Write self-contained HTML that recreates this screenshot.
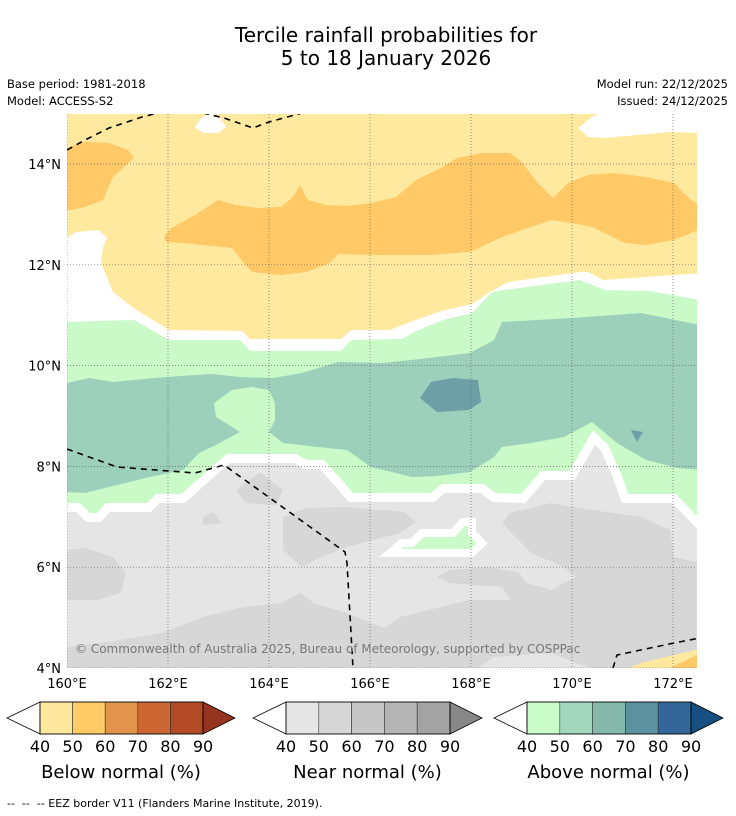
<!DOCTYPE html>
<html><head><meta charset="utf-8"><style>
html,body{margin:0;padding:0;background:#fff;}
svg{display:block;font-family:"DejaVu Sans","Liberation Sans",sans-serif;}
</style></head><body>
<svg id="root" width="736" height="816" viewBox="0 0 736 816">
<rect width="736" height="816" fill="#fff"/>
<text x="386" y="42" font-size="20" text-anchor="middle">Tercile rainfall probabilities for</text>
<text x="386" y="65" font-size="20" text-anchor="middle">5 to 18 January 2026</text>
<text x="7" y="88" font-size="11.5">Base period: 1981-2018</text>
<text x="7" y="105" font-size="11.5">Model: ACCESS-S2</text>
<text x="728" y="88" font-size="11.5" text-anchor="end">Model run: 22/12/2025</text>
<text x="728" y="105" font-size="11.5" text-anchor="end">Issued: 24/12/2025</text>

<defs><clipPath id="mc"><rect x="67" y="114" width="630" height="554"/></clipPath></defs>
<g clip-path="url(#mc)">
<rect x="67" y="114" width="630" height="554" fill="#fff"/>
<polygon fill="#C9FAC8" points="67,322 134,320 169,340 240,340 250,351 341,351 351,340 402,339 412,333 443,320 472,313 492,292 504,290 580,280 605,290 650,291 700,300 700,668 67,668"/>
<polygon fill="#9CD0BA" points="67,383 89,378 113,382 166,377 212,374 240,377 273,378 302,373 338,362 383,363 429,358 470,353 494,340 502,322 572,318 641,313 700,325 700,470 678,468 646,460 617,443 592,422 564,437 531,443 502,447 494,457 470,472 437,476 412,477 371,467 347,450 318,447 283,443 269,432 275,420 275,403 269,390 252,387 232,390 214,403 216,417 240,432 216,445 199,453 183,470 150,477 109,487 85,493 67,492"/>
<polygon fill="#6DA0A6" points="420,398 431,382 453,378 478,380 481,402 469,410 437,412"/>
<polygon fill="#6DA0A6" points="631,430 643,432 637,442"/>
<polygon fill="#E5E5E5" points="67,512 78,512 88,522 99,522 108,512 149,512 158,503 183,503 228,463 295,463 306,469 322,469 351,502 433,502 443,493 482,493 494,502 523,503 543,480 572,480 594,442 605,453 617,480 625,503 674,503 700,530 700,668 67,668"/>
<polyline fill="none" stroke="#fff" stroke-width="9" transform="translate(0,-4.5)" points="60,512 78,512 88,522 99,522 108,512 149,512 158,503 183,503 228,463 295,463 306,469 322,469 351,502 433,502 443,493 482,493 494,502 523,503 543,480 572,480 594,442 605,453 617,480 625,503 674,503 705,535"/>
<polygon fill="#D7D7D7" points="67,668 67,647 121,640 162,633 203,617 244,607 281,603 300,593 314,603 347,613 384,628 400,617 429,610 470,600 510,600 502,587 449,583 437,577 449,570 490,567 519,573 527,583 551,590 564,583 576,577 564,567 531,553 502,523 510,513 551,503 592,510 641,517 670,530 674,557 700,563 700,668"/>
<polygon fill="#E5E5E5" points="478,668 494,657 551,653 576,663 592,668"/>
<polygon fill="#D7D7D7" points="67,550 85,548 113,557 126,573 121,593 97,600 67,600"/>
<polygon fill="#D7D7D7" points="283,517 306,508 347,507 404,512 416,522 400,533 347,547 322,557 302,567 283,550"/>
<polygon fill="#D7D7D7" points="236,490 260,472 283,490 276,505 245,503"/>
<polygon fill="#D7D7D7" points="203,517 213,512 222,523 203,525"/>
<polygon fill="#C9FAC8" stroke="#fff" stroke-width="8" stroke-linejoin="miter" points="390,553 402,543 412,543 422,533 453,533 463,522 472,522 472,533 482,543 472,553"/>
<polygon fill="#FEE99F" points="60,114 705,114 705,273 603,280 588,272 580,272 508,282 490,292 472,304 441,311 410,322 390,330 351,330 341,339 250,339 242,331 169,330 132,307 113,292 101,263 103,247 107,238 99,230 76,232 67,238 60,238"/>
<polygon fill="#FEC966" points="60,150 85,142 109,143 128,150 134,158 113,177 103,200 85,207 60,212"/>
<polygon fill="#FEC966" points="164,237 171,228 195,215 218,200 236,205 257,208 281,207 293,197 300,185 304,193 308,200 326,205 347,206 371,203 396,197 416,180 441,168 457,158 482,153 510,153 523,163 535,180 553,198 568,183 588,175 613,173 646,177 674,183 691,200 705,208 705,227 691,233 674,240 646,245 625,243 592,227 572,223 551,220 531,227 502,237 470,252 429,255 371,255 338,254 330,263 306,272 281,275 252,272 244,263 232,248 183,243 166,242"/>
<polygon fill="#fff" points="195,127 201,118 212,112 220,118 226,127 218,133 203,133"/>
<polygon fill="#fff" points="578,128 592,117 605,110 705,110 705,133 670,132 605,138 588,137"/>
<polygon fill="#FEE99F" points="629,668 641,663 674,655 705,648 705,668"/>
<polygon fill="#FEC966" points="670,668 705,651 705,668"/>
<g fill="none" stroke="#000" stroke-width="1.6" stroke-dasharray="6,5">
<polyline points="67,150 85,140 109,128 142,117 158,113"/>
<polyline points="203,113 224,118 253,128 269,122 302,113"/>
<polyline points="67,449 117,467 195,473 224,465 345,552 347,563 353,668"/>
<polyline points="613,668 617,655 674,643 700,638"/>
</g>
<g id="grid"></g>
<text x="75" y="653" font-size="12" fill="#777">© Commonwealth of Australia 2025, Bureau of Meteorology, supported by COSPPac</text>
</g>
<g id="axes" font-size="13"></g>
<g id="legends"></g>
<text x="7" y="807" font-size="11" style="white-space:pre">--  --  -- EEZ border V11 (Flanders Marine Institute, 2019).</text>
</svg>
<script>
const lonTicks=[160,162,164,166,168,170,172];
const latTicks=[4,6,8,10,12,14];
const levels=[40,50,60,70,80,90];
const belowColors=["#FEE89E","#FECB65","#E1944A","#CC6633","#B24A26","#953520"];
const nearColors=["#E6E6E6","#D6D6D6","#C6C6C6","#B5B5B5","#A3A3A3","#888888"];
const aboveColors=["#C9FCC8","#A3D7BD","#85B9AC","#5C929F","#336699","#174F82"];
const legendTitles=["Below normal (%)","Near normal (%)","Above normal (%)"];
const NS="http://www.w3.org/2000/svg";
const xLon=l=>67+50.5*(l-160);
const yLat=l=>668-50.4*(l-4);
function mk(t,a,p){const e=document.createElementNS(NS,t);for(const k in a)e.setAttribute(k,a[k]);p.appendChild(e);return e;}
const grid=document.getElementById('grid'),axes=document.getElementById('axes');
lonTicks.forEach(l=>{
  const ln=mk('line',{x1:xLon(l),x2:xLon(l),y1:114,y2:668,stroke:'#666','stroke-width':0.7,'stroke-dasharray':'1,2'},grid);
  
  
  const t=mk('text',{x:xLon(l),y:688,'text-anchor':'middle'},axes);t.textContent=l+'°E';
  
  
});
latTicks.forEach(l=>{
  const ln=mk('line',{x1:67,x2:697,y1:yLat(l),y2:yLat(l),stroke:'#666','stroke-width':0.7,'stroke-dasharray':'1,2'},grid);
  
  
  const t=mk('text',{x:61,y:yLat(l)+5,'text-anchor':'end'},axes);t.textContent=l+'°N';
  
  
});
const lg=document.getElementById('legends');
const bars=[{x0:40,x1:203,tipL:7,tipR:235,c:belowColors},{x0:286,x1:450,tipL:253,tipR:482,c:nearColors},{x0:527,x1:691,tipL:494,tipR:723,c:aboveColors}];
bars.forEach((b,i)=>{
  const g=mk('g',{},lg);
  
  
  const top=702,bot=734,mid=718,w=(b.x1-b.x0)/(levels.length-1);
  const lt=mk('polygon',{points:`${b.x0},${top} ${b.tipL},${mid} ${b.x0},${bot}`,fill:'#fff',stroke:'#000','stroke-width':0.8},g);
  
  
  for(let k=0;k<levels.length-1;k++){
    const r=mk('rect',{x:b.x0+k*w,y:top,width:w,height:bot-top,fill:b.c[k],stroke:'#333','stroke-width':0.6},g);
    
    
  }
  const rt=mk('polygon',{points:`${b.x1},${top} ${b.tipR},${mid} ${b.x1},${bot}`,fill:b.c[5],stroke:'#000','stroke-width':0.8},g);
  
  
  mk('rect',{x:b.x0,y:top,width:b.x1-b.x0,height:bot-top,fill:'none',stroke:'#000','stroke-width':0.8},g);
  levels.forEach((v,k)=>{
    const t=mk('text',{x:b.x0+k*w,y:752,'font-size':16,'text-anchor':'middle'},g);t.textContent=v;
    
    
  });
  const tt=mk('text',{x:(b.tipL+b.tipR)/2,y:778,'font-size':18,'text-anchor':'middle'},g);tt.textContent=legendTitles[i];
  
  
});
</script>
</body></html>
